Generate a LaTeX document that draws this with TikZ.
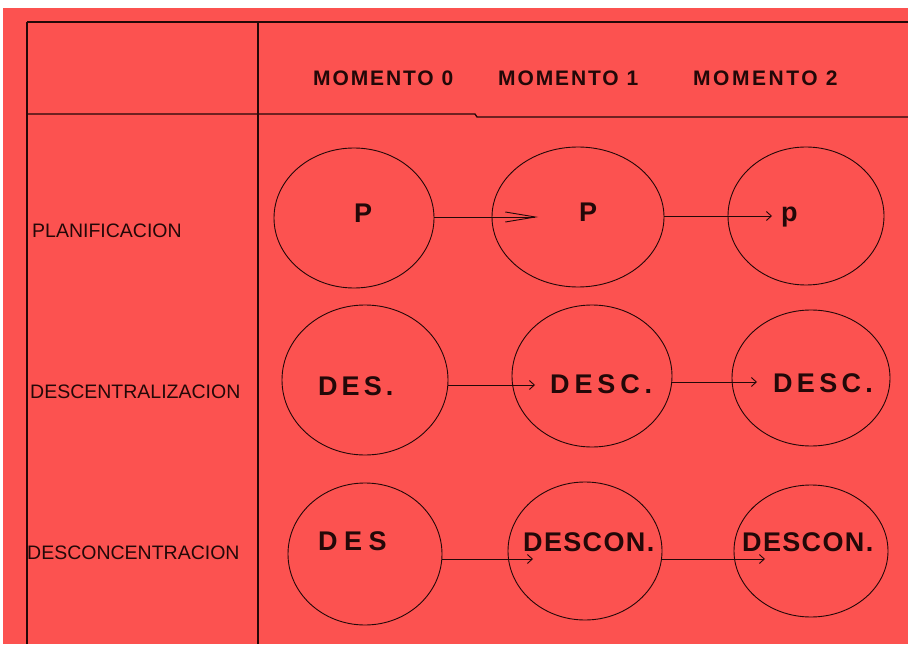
\documentclass[tikz,border=0pt]{standalone}
\usepackage{fontspec}
\setmainfont{Liberation Sans}
\usetikzlibrary{shapes.geometric,arrows.meta}
\definecolor{bgred}{RGB}{252,82,80}
\definecolor{ink}{RGB}{35,8,8}
\tikzset{
  hdr/.style={font=\fontsize{21}{21}\selectfont\bfseries\addfontfeature{LetterSpace=9}, text=ink, anchor=base west, inner sep=0pt},
  rowlab/.style={font=\fontsize{19.5}{20}\selectfont, text=ink, anchor=base west, inner sep=0pt},
  lab/.style={font=\fontsize{27}{27}\selectfont\bfseries, text=ink, anchor=base west, inner sep=0pt},
  oval/.style={ellipse, draw=ink, line width=0.9pt, inner sep=0pt},
  arr/.style={draw=ink, line width=0.9pt, -{Straight Barb[length=5pt,width=9pt]}},
  gridline/.style={draw=ink, line width=1.3pt}
}
\begin{document}
\begin{tikzpicture}[x=1pt,y=-1pt]
\useasboundingbox (0,0) rectangle (908,647);
\fill[white] (0,0) rectangle (908,647);
\fill[bgred] (3,8) rectangle (908,644);
% table lines
\draw[gridline] (27,22) -- (908,22);
\draw[gridline] (27,22) -- (27,644);
\draw[gridline] (258,22) -- (258,644);
\draw[gridline] (27,114) -- (475,114) -- (477,117) -- (908,117);
% headers
\node[hdr] (h0) at (313,86) {MOMENTO 0};
\node[hdr] (h1) at (498,86) {MOMENTO 1};
\node[hdr, font=\fontsize{21}{21}\selectfont\bfseries\addfontfeature{LetterSpace=12}] (h2) at (693,86) {MOMENTO 2};
% row labels
\node[rowlab] (r1) at (32,238) {PLANIFICACION};
\node[rowlab] (r2) at (30,398) {DESCENTRALIZACION};
\node[rowlab] (r3) at (27,559) {DESCONCENTRACION};
% ellipses
\node[oval, minimum width=160pt, minimum height=140pt] (E11) at (354,218) {};
\node[oval, minimum width=172pt, minimum height=140pt] (E12) at (578,217) {};
\node[oval, minimum width=156pt, minimum height=138pt] (E13) at (806,216) {};
\node[oval, minimum width=166pt, minimum height=150pt] (E21) at (365,380) {};
\node[oval, minimum width=160pt, minimum height=142pt] (E22) at (592,376) {};
\node[oval, minimum width=158pt, minimum height=136pt] (E23) at (811,378) {};
\node[oval, minimum width=154pt, minimum height=142pt] (E31) at (365,554) {};
\node[oval, minimum width=154pt, minimum height=138pt] (E32) at (585,551) {};
\node[oval, minimum width=154pt, minimum height=132pt] (E33) at (811,551) {};
% labels
\node[lab] (l11) at (354,223) {P};
\node[lab] (l12) at (579,222) {P};
\node[lab] (l13) at (781,222) {p};
\node[lab, font=\fontsize{27}{27}\selectfont\bfseries\addfontfeature{LetterSpace=15}] (l21) at (318,395) {DES.};
\node[lab, font=\fontsize{27}{27}\selectfont\bfseries\addfontfeature{LetterSpace=18}] (l22) at (550,393) {DESC.};
\node[lab, font=\fontsize{27}{27}\selectfont\bfseries\addfontfeature{LetterSpace=16}] (l23) at (773,392) {DESC.};
\node[lab, font=\fontsize{27}{27}\selectfont\bfseries\addfontfeature{LetterSpace=24}] (l31) at (318,550) {DES};
\node[lab, font=\fontsize{27}{27}\selectfont\bfseries\addfontfeature{LetterSpace=5}] (l32) at (523,551) {DESCON.};
\node[lab, font=\fontsize{27}{27}\selectfont\bfseries\addfontfeature{LetterSpace=5}] (l33) at (742,551) {DESCON.};
% arrow ends
\coordinate (t11) at (538,217);
\coordinate (t12) at (772,216);
\coordinate (t21) at (535,385);
\coordinate (t22) at (757,382);
\coordinate (t31) at (533,559);
\coordinate (t32) at (765,559);
% arrows
\draw[arr, -{Straight Barb[length=30pt,width=10pt]}] (E11.east |- t11) -- (t11);
\draw[arr] (E12.east |- t12) -- (t12);
\draw[arr] (E21.east |- t21) -- (t21);
\draw[arr] (E22.east |- t22) -- (t22);
\draw[arr] (E31.east |- t31) -- (t31);
\draw[arr] (E32.east |- t32) -- (t32);
\end{tikzpicture}
\end{document}
